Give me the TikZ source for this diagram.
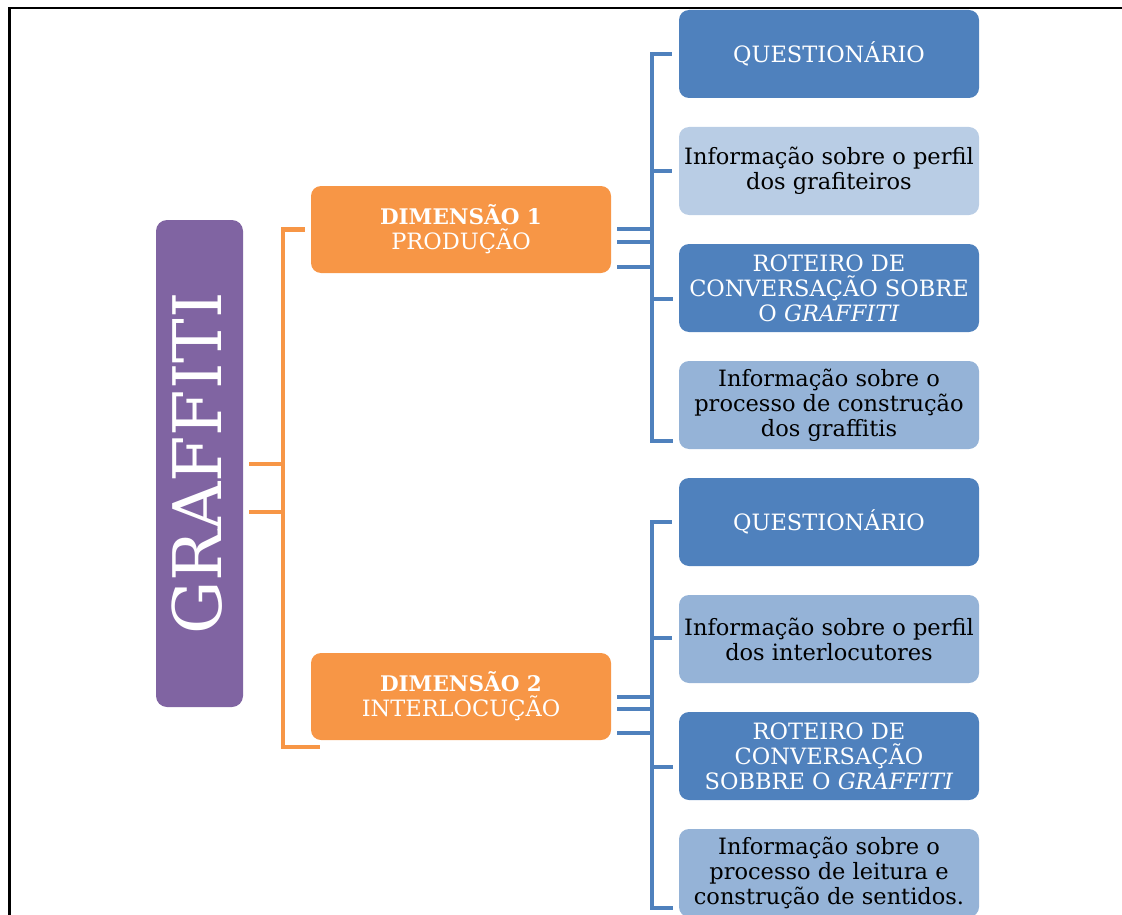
\documentclass[tikz,border=0pt]{standalone}
\usepackage{fontspec}
\setmainfont{DejaVu Serif}
\definecolor{gpurple}{HTML}{8064A2}
\definecolor{gorange}{HTML}{F79646}
\definecolor{gblue}{HTML}{4F81BD}
\definecolor{glightA}{HTML}{B9CDE5}
\definecolor{glightB}{HTML}{95B3D7}
\tikzset{
  box/.style={rectangle, rounded corners=10pt, minimum width=300pt, minimum height=88pt,
    inner sep=0pt, align=center, font=\fontsize{22.5}{25}\selectfont},
  darkbox/.style={box, fill=gblue, text=white},
  lightAbox/.style={box, fill=glightA, text=black},
  lightBbox/.style={box, fill=glightB, text=black},
  dimbox/.style={box, fill=gorange, text=white, minimum height=87pt},
  ol/.style={draw=gorange, line width=4.5pt},
  bl/.style={draw=gblue, line width=4.5pt},
}
\begin{document}
\begin{tikzpicture}[x=1pt,y=-1pt]
\useasboundingbox (0,0) rectangle (1122,915);
\draw[line width=2.5pt] (9.5,915) -- (9.5,8) -- (1122,8);

% root
\node[rectangle, rounded corners=11pt, fill=gpurple, minimum width=87pt, minimum height=487pt,
  inner sep=0pt] (g) at (199.5,463.5) {};
\node[rotate=90, text=white, font=\fontsize{67}{70}\selectfont] (gt) at (197,463.5) {GRAFFITI};

% dimensions
\node[dimbox] (d1) at (461,229.5) {{\bfseries\fontsize{21.5}{25}\selectfont DIMENSÃO 1}\\PRODUÇÃO};
\node[dimbox] (d2) at (461,696.5) {{\bfseries\fontsize{21.5}{25}\selectfont DIMENSÃO 2}\\INTERLOCUÇÃO};

% column 1
\node[darkbox] (a1) at (829,54) {QUESTIONÁRIO};
\node[lightAbox] (a2) at (829,171) {Informação sobre o perfil\\dos grafiteiros};
\node[darkbox] (a3) at (829,288) {ROTEIRO DE\\CONVERSAÇÃO SOBRE\\O \textit{GRAFFITI}};
\node[lightBbox] (a4) at (829,405) {Informação sobre o\\processo de construção\\dos graffitis};

% column 2
\node[darkbox] (b1) at (829,522) {QUESTIONÁRIO};
\node[lightBbox] (b2) at (829,639) {Informação sobre o perfil\\dos interlocutores};
\node[darkbox] (b3) at (829,756) {ROTEIRO DE\\CONVERSAÇÃO\\SOBBRE O \textit{GRAFFITI}};
\node[lightBbox] (b4) at (829,873) {Informação sobre o\\processo de leitura e\\construção de sentidos.};

% orange connectors
\coordinate (oj1) at (283,464);
\coordinate (oj2) at (283,512);
\coordinate (otop) at (283,229.5);
\coordinate (obot) at (283,747);
\coordinate (oend) at (320,747);
\draw[ol] ([xshift=6pt]g.east |- oj1) -- (oj1);
\draw[ol] ([xshift=6pt]g.east |- oj2) -- (oj2);
\draw[ol] ([xshift=-6pt]d1.west) -- (otop) -- (obot) -- (oend);

% blue connectors column 1
\coordinate (p1) at (652,54);
\coordinate (p2) at (652,171);
\coordinate (p3) at (652,299);
\coordinate (p4) at (652,441);
\coordinate (p4e) at (673,441);
\coordinate (p3e) at (673,299);
\draw[bl] ([xshift=-7pt]a1.west) -- (p1) -- (p4) -- (p4e);
\draw[bl] (p2) -- ([xshift=-7pt]a2.west);
\draw[bl] (p3) -- (p3e);
\foreach \yy in {229,242,267}{
  \draw[bl] ([xshift=6pt]d1.east |- 0,\yy) -- (652,\yy);
}

% blue connectors column 2
\coordinate (q1) at (652,522);
\coordinate (q2) at (652,638);
\coordinate (q3) at (652,767);
\coordinate (q4) at (652,908);
\coordinate (q4e) at (673,908);
\coordinate (q3e) at (673,767);
\draw[bl] ([xshift=-7pt]b1.west) -- (q1) -- (q4) -- (q4e);
\draw[bl] (q2) -- ([xshift=-7pt]b2.west |- q2);
\draw[bl] (q3) -- (q3e);
\foreach \yy in {697,709,733}{
  \draw[bl] ([xshift=6pt]d2.east |- 0,\yy) -- (652,\yy);
}
\end{tikzpicture}
\end{document}
